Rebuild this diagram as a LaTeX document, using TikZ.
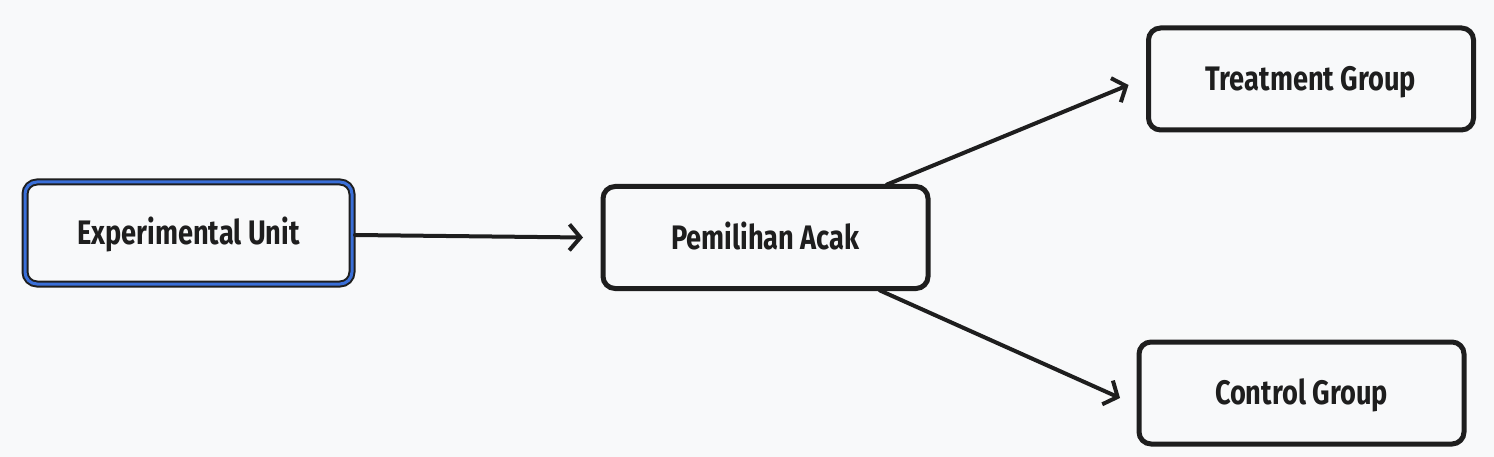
\documentclass[tikz,border=0pt]{standalone}
\usepackage{fontspec}
\setmainfont{Fira Sans}[FakeStretch=0.8]
\usetikzlibrary{arrows.meta,calc}
\definecolor{bg}{HTML}{F8F9FA}
\definecolor{ink}{HTML}{1E1E1E}
\definecolor{blueline}{HTML}{3A6FD8}
\tikzset{
  box/.style={draw=ink, line width=5pt, rounded corners=12pt, fill=bg, minimum width=#1, minimum height=102pt, inner sep=0pt, outer sep=0pt, text height=23.5pt, text depth=0pt, font=\fontsize{34}{38}\selectfont\bfseries, text=ink},
  box/.default=325pt,
  conn/.style={draw=ink, line width=4pt, line cap=round, -{Straight Barb[length=11pt,width=26pt,line width=4pt]}}
}
\begin{document}
\begin{tikzpicture}[x=1pt,y=-1pt]
\fill[bg] (0,0) rectangle (1494,457);
\useasboundingbox (0,0) rectangle (1494,457);
% Experimental Unit with blue double border
\node[box=327pt, line width=7pt] (eu) at (188.5,233) {Experimental Unit};
\draw[blueline, line width=3pt, rounded corners=12pt] (eu.south west) rectangle (eu.north east);
\node[box] (pa) at (765.5,237.5) {Pemilihan Acak};
\node[box] (tg) at (1311,79) {Treatment Group};
\node[box] (cg) at (1301.5,393) {Control Group};
\draw[conn] ($(eu.east)+(3,2)$) -- ($(pa.west)+(-20,0)$);
\draw[conn] ($(pa.north east)+(-41,-2)$) -- ($(tg.west)+(-20,6)$);
\draw[conn] ($(pa.south east)+(-48,2)$) -- ($(cg.west)+(-19,5)$);
\end{tikzpicture}
\end{document}
